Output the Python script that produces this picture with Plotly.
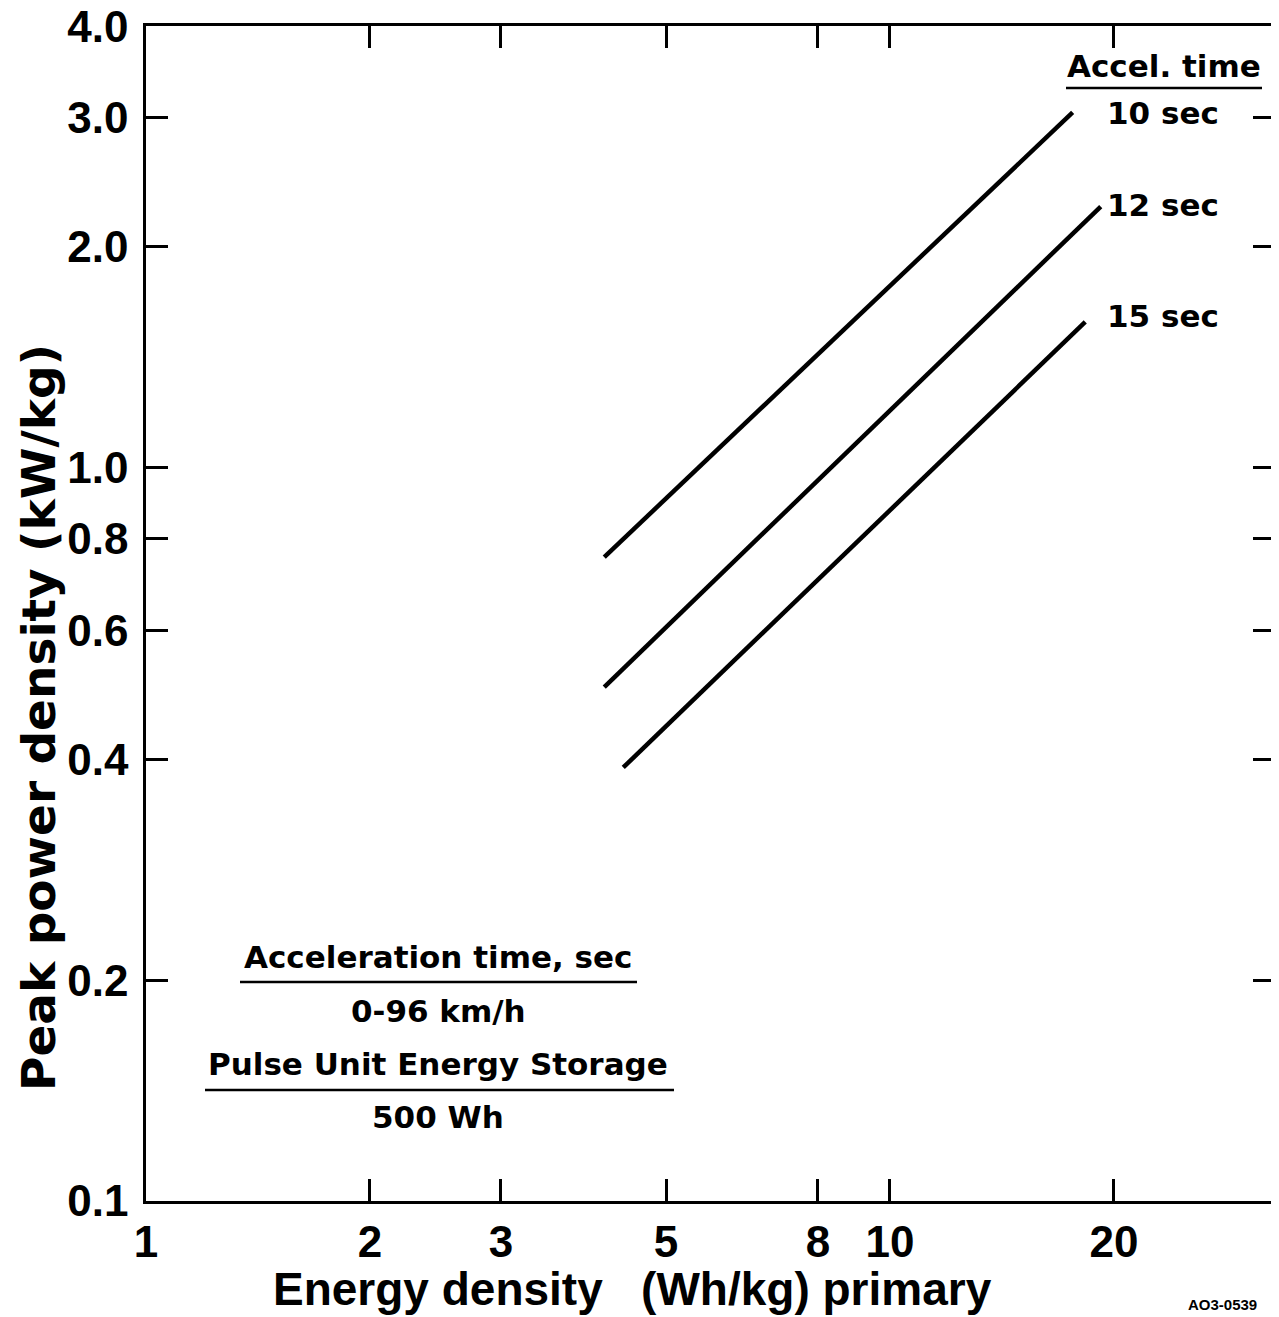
import plotly.graph_objects as go

# Data
series_names = ["10 sec", "12 sec", "15 sec"]
energy_10 = [4.13, 17.6]
power_10 = [0.755, 3.05]
energy_12 = [4.13, 19.2]
power_12 = [0.502, 2.27]
energy_15 = [4.38, 18.3]
power_15 = [0.39, 1.58]

x_tickvals = [1, 2, 3, 5, 8, 10, 20]
x_ticktext = ["1", "2", "3", "5", "8", "10", "20"]
y_tickvals = [0.1, 0.2, 0.4, 0.6, 0.8, 1.0, 2.0, 3.0, 4.0]
y_ticktext = ["0.1", "0.2", "0.4", "0.6", "0.8", "1.0", "2.0", "3.0", "4.0"]

LIB = "Liberation Sans, Arial, sans-serif"
DJV = "DejaVu Sans, sans-serif"

fig = go.Figure()
for name, xs, ys in [(series_names[0], energy_10, power_10),
                     (series_names[1], energy_12, power_12),
                     (series_names[2], energy_15, power_15)]:
    fig.add_trace(go.Scatter(x=xs, y=ys, mode="lines", name=name,
                             line=dict(color="black", width=4.5),
                             showlegend=False, hoverinfo="skip"))

# page body has an 8px default margin; compensate
OFF = 8
W, H = 1279 - OFF, 1317 - OFF
ml, mt = 146 - OFF, 26 - OFF
plot_right, plot_bottom = 1275 - OFF, 1201 - OFF
mr, mb = W - plot_right, H - plot_bottom

fig.update_layout(
    width=W, height=H,
    margin=dict(l=ml, r=mr, t=mt, b=mb, autoexpand=False),
    paper_bgcolor="white", plot_bgcolor="white",
    font=dict(family=LIB, color="black"),
)
fig.update_xaxes(
    type="log", range=[0, 1.5175], automargin=False,
    tickvals=x_tickvals, ticktext=x_ticktext,
    ticks="inside", ticklen=22, tickwidth=2.5, tickcolor="black",
    showline=True, linecolor="black", linewidth=2.5, mirror="ticks",
    showgrid=False, zeroline=False,
    tickfont=dict(family=LIB, size=44, weight="bold"),
    ticklabelstandoff=0, ticklabeloverflow="allow",
)
fig.update_yaxes(
    type="log", range=[-1.0001, 0.6022], automargin=False,
    tickvals=y_tickvals, ticktext=y_ticktext,
    ticks="inside", ticklen=22, tickwidth=2.5, tickcolor="black",
    showline=True, linecolor="black", linewidth=2.5, mirror="ticks",
    showgrid=False, zeroline=False,
    tickfont=dict(family=LIB, size=44, weight="bold"),
    ticklabelstandoff=6, ticklabeloverflow="allow",
)

def px(x):
    return (x - OFF - ml) / (W - ml - mr)

def py(y):
    return (H - mb - (y - OFF)) / (H - mt - mb)

ann = []
ann.append(dict(text="Energy density   (Wh/kg) primary", x=px(632), y=py(1289),
                xref="paper", yref="paper", showarrow=False,
                font=dict(family=LIB, size=46, weight="bold"),
                xanchor="center", yanchor="middle"))
ann.append(dict(text="Peak power density (kW/kg)", x=px(38), y=py(718),
                xref="paper", yref="paper", showarrow=False, textangle=-90,
                font=dict(family=DJV, size=47, weight="bold"),
                xanchor="center", yanchor="middle"))
ann.append(dict(text="Accel. time", x=px(1164), y=py(66), xref="paper", yref="paper",
                showarrow=False, font=dict(family=DJV, size=31, weight="bold"),
                xanchor="center", yanchor="middle"))
for lab, yy in [("10 sec", 113), ("12 sec", 205), ("15 sec", 316)]:
    ann.append(dict(text=lab, x=px(1163), y=py(yy), xref="paper", yref="paper",
                    showarrow=False, font=dict(family=DJV, size=31, weight="bold"),
                    xanchor="center", yanchor="middle"))
for lab, yy in [("Acceleration time, sec", 957), ("0-96 km/h", 1011),
                ("Pulse Unit Energy Storage", 1064), ("500 Wh", 1117)]:
    ann.append(dict(text=lab, x=px(438), y=py(yy), xref="paper", yref="paper",
                    showarrow=False, font=dict(family=DJV, size=31, weight="bold"),
                    xanchor="center", yanchor="middle"))
ann.append(dict(text="AO3-0539", x=px(1186), y=py(1304), xref="paper", yref="paper",
                showarrow=False,
                font=dict(family=LIB, size=15, weight="bold"),
                xanchor="left", yanchor="middle"))
fig.update_layout(annotations=ann)

shapes = []
for x0, x1, yy in [(1066, 1262, 88), (240, 637, 982), (205, 674, 1090)]:
    shapes.append(dict(type="line", xref="paper", yref="paper",
                       x0=px(x0), x1=px(x1), y0=py(yy), y1=py(yy),
                       line=dict(color="black", width=2.5)))
fig.update_layout(shapes=shapes)

fig.write_html("out.html")
